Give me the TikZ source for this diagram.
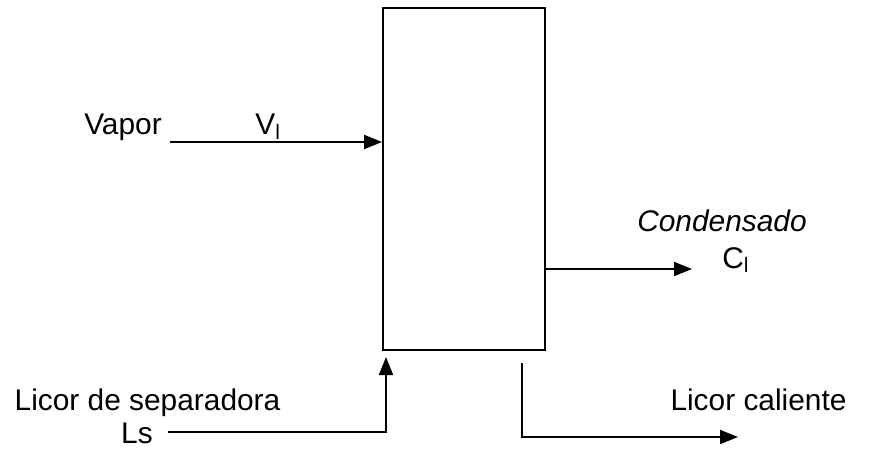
\documentclass[tikz,border=0pt]{standalone}
\usepackage{fontspec}
\setmainfont{Liberation Sans}
\usetikzlibrary{arrows.meta,positioning}

\tikzset{>={Triangle[length=3.6mm,width=2.8mm]}}
\tikzset{
  flow/.style={->,line width=1.1pt},
  lbl/.style={inner sep=0pt,anchor=base,font=\fontsize{17}{20}\selectfont},
}

\begin{document}
\begin{tikzpicture}
  \useasboundingbox (0,0) rectangle (17.38,9);
  % EVAPORATOR
  \node[draw,line width=1.1pt,minimum width=3.24cm,minimum height=6.84cm,
        inner sep=0pt] (evap) at (9.28,5.42) {};

  \coordinate (Vin)  at (3.4,6.16);
  \coordinate (Cout) at (13.84,3.62);
  \coordinate (Lin)  at (3.36,0.36);
  \coordinate (Lup)  at (7.72,1.86);
  \coordinate (Ltop) at (10.44,1.74);
  \coordinate (Lout) at (14.76,0.26);

  % STREAMS
  \draw[flow] (Vin) -- (Vin -| evap.west);
  \draw[flow] (evap.east |- Cout) -- (Cout);
  \draw[flow] (Lin) -| (Lup);
  \draw[flow] (Ltop) |- (Lout);

  % LABELS
  \node[lbl] (vapor) at (2.46,6.3) {Vapor};
  \node[lbl,anchor=base west] (V1) at (5.1,6.3) {V\textsubscript{l}};
  \node[lbl] (cond) at (14.44,4.38) {\itshape Condensado};
  \node[lbl,anchor=base west] (C1) at (14.44,3.64) {C\textsubscript{l}};
  \node[lbl] (sep) at (2.95,0.8) {Licor de separadora};
  \node[lbl] (Ls) at (2.74,0.14) {Ls};
  \node[lbl] (cal) at (15.17,0.8) {Licor caliente};
\end{tikzpicture}
\end{document}
